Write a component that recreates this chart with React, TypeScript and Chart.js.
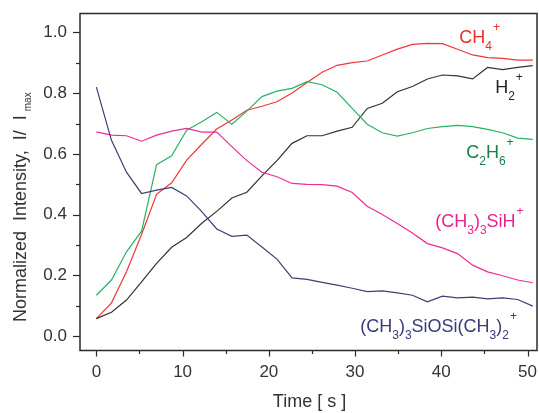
import React, { useEffect, useRef } from "react";
import { Chart, registerables } from "chart.js";
Chart.register(...registerables);

// ---- data ----
const time = [0, 1.75, 3.49, 5.24, 6.98, 8.73, 10.47, 12.22, 13.96, 15.71, 17.45, 19.2, 20.94, 22.69, 24.43, 26.18, 27.92, 29.67, 31.41, 33.16, 34.9, 36.65, 38.39, 40.14, 41.88, 43.63, 45.37, 47.12, 48.86, 50.61];
const ch4 = [0.058, 0.11, 0.212, 0.335, 0.467, 0.505, 0.58, 0.632, 0.682, 0.712, 0.744, 0.757, 0.772, 0.801, 0.835, 0.869, 0.892, 0.901, 0.906, 0.926, 0.945, 0.961, 0.964, 0.963, 0.945, 0.926, 0.917, 0.915, 0.909, 0.909];
const h2 = [0.058, 0.079, 0.119, 0.179, 0.24, 0.293, 0.325, 0.372, 0.411, 0.455, 0.474, 0.528, 0.578, 0.635, 0.66, 0.66, 0.675, 0.688, 0.75, 0.767, 0.805, 0.822, 0.847, 0.86, 0.857, 0.847, 0.885, 0.878, 0.885, 0.891];
const c2h6 = [0.135, 0.185, 0.278, 0.346, 0.565, 0.594, 0.678, 0.706, 0.737, 0.698, 0.741, 0.789, 0.807, 0.816, 0.838, 0.828, 0.803, 0.75, 0.698, 0.67, 0.659, 0.67, 0.684, 0.69, 0.694, 0.69, 0.681, 0.67, 0.652, 0.648];
const siH = [0.673, 0.662, 0.66, 0.642, 0.662, 0.675, 0.684, 0.672, 0.672, 0.624, 0.578, 0.54, 0.525, 0.503, 0.5, 0.499, 0.494, 0.473, 0.428, 0.401, 0.371, 0.34, 0.305, 0.291, 0.272, 0.234, 0.212, 0.199, 0.185, 0.176];
const siOSi = [0.82, 0.645, 0.54, 0.47, 0.481, 0.49, 0.462, 0.41, 0.353, 0.329, 0.333, 0.294, 0.254, 0.192, 0.187, 0.177, 0.168, 0.158, 0.147, 0.149, 0.143, 0.135, 0.113, 0.132, 0.126, 0.129, 0.123, 0.126, 0.121, 0.099];

const xMajorTicks = [0, 10, 20, 30, 40, 50];
const xMinorTicks = [5, 15, 25, 35, 45];
const yMajorTicks = [0, 0.2, 0.4, 0.6, 0.8, 1.0];
const yMinorTicks = [0.1, 0.3, 0.5, 0.7, 0.9];

const FONT = "'Liberation Sans', Arial, Helvetica, sans-serif";

type Seg = { t: string; k?: "sub" | "sup" };
const seriesLabels: { color: string; x: number; y: number; segs: Seg[] }[] = [
  { color: "#ee2b2b", x: 42.08, y: 0.964, segs: [{ t: "CH" }, { t: "4", k: "sub" }, { t: "+", k: "sup" }] },
  { color: "#222222", x: 46.25, y: 0.8, segs: [{ t: "H" }, { t: "2", k: "sub" }, { t: "+", k: "sup" }] },
  { color: "#17804a", x: 42.89, y: 0.586, segs: [{ t: "C" }, { t: "2", k: "sub" }, { t: "H" }, { t: "6", k: "sub" }, { t: "+", k: "sup" }] },
  { color: "#e8228e", x: 39.3, y: 0.359, segs: [{ t: "(CH" }, { t: "3", k: "sub" }, { t: ")" }, { t: "3", k: "sub" }, { t: "SiH" }, { t: "+", k: "sup" }] },
  { color: "#3a3a78", x: 30.6, y: 0.013, segs: [{ t: "(CH" }, { t: "3", k: "sub" }, { t: ")" }, { t: "3", k: "sub" }, { t: "SiOSi(CH" }, { t: "3", k: "sub" }, { t: ")" }, { t: "2", k: "sub" }, { t: "+", k: "sup" }] },
];

const mk = (arr: number[]) => time.map((t, i) => ({ x: t, y: arr[i] }));

const customPlugin = {
  id: "customDraw",
  afterDraw(chart: any) {
    const { ctx, chartArea: a, scales } = chart;
    const xs = scales.x;
    const ys = scales.y;
    ctx.save();
    ctx.strokeStyle = "#2a2a2a";
    ctx.lineWidth = 1.5;
    ctx.strokeRect(a.left, a.top, a.right - a.left, a.bottom - a.top);
    ctx.lineWidth = 1.2;
    const line = (x1: number, y1: number, x2: number, y2: number) => {
      ctx.beginPath();
      ctx.moveTo(x1, y1);
      ctx.lineTo(x2, y2);
      ctx.stroke();
    };
    xMajorTicks.forEach((v) => {
      const px = Math.round(xs.getPixelForValue(v)) + 0.5;
      line(px, a.bottom, px, a.bottom + 6);
    });
    xMinorTicks.forEach((v) => {
      const px = Math.round(xs.getPixelForValue(v)) + 0.5;
      line(px, a.bottom, px, a.bottom + 3.5);
    });
    yMajorTicks.forEach((v) => {
      const py = Math.round(ys.getPixelForValue(v)) + 0.5;
      line(a.left - 7, py, a.left, py);
    });
    yMinorTicks.forEach((v) => {
      const py = Math.round(ys.getPixelForValue(v)) + 0.5;
      line(a.left - 4, py, a.left, py);
    });

    ctx.fillStyle = "#333333";
    ctx.font = `17px ${FONT}`;
    ctx.textAlign = "center";
    ctx.textBaseline = "middle";
    xMajorTicks.forEach((v) => {
      ctx.fillText(String(v), xs.getPixelForValue(v), a.bottom + 22);
    });
    ctx.textAlign = "right";
    yMajorTicks.forEach((v) => {
      ctx.fillText(v.toFixed(1), a.left - 13, ys.getPixelForValue(v));
    });

    // x title
    ctx.textAlign = "center";
    ctx.textBaseline = "alphabetic";
    ctx.font = `18px ${FONT}`;
    ctx.fillText("Time [ s ]", (a.left + a.right) / 2 + 1, 407);

    // y title
    ctx.save();
    ctx.translate(26, 322);
    ctx.rotate(-Math.PI / 2);
    ctx.textAlign = "left";
    ctx.font = `18px ${FONT}`;
    const main = "Normalized  Intensity,  I/  I";
    ctx.fillText(main, 0, 0);
    const w = ctx.measureText(main).width;
    ctx.font = `10px ${FONT}`;
    ctx.fillText("max", w + 4, 5);
    ctx.restore();

    // series labels
    ctx.textAlign = "left";
    ctx.textBaseline = "alphabetic";
    seriesLabels.forEach((lab) => {
      let x = xs.getPixelForValue(lab.x);
      const y = ys.getPixelForValue(lab.y);
      ctx.fillStyle = lab.color;
      lab.segs.forEach((s) => {
        if (s.k === "sub") {
          ctx.font = `12px ${FONT}`;
          ctx.fillText(s.t, x, y + 6.5);
        } else if (s.k === "sup") {
          ctx.font = `12px ${FONT}`;
          ctx.fillText(s.t, x + 1, y - 12);
        } else {
          ctx.font = `18px ${FONT}`;
          ctx.fillText(s.t, x, y);
        }
        x += ctx.measureText(s.t).width;
      });
    });
    ctx.restore();
  },
};

export default function App() {
  const ref = useRef<HTMLCanvasElement | null>(null);
  useEffect(() => {
    if (!ref.current) return;
    const ds = (label: string, data: number[], color: string) => ({
      label,
      data: mk(data),
      borderColor: color,
      backgroundColor: color,
      borderWidth: 1.2,
      pointRadius: 0,
      tension: 0,
      fill: false,
    });
    const chart = new Chart(ref.current, {
      type: "line",
      data: {
        datasets: [
          ds("(CH3)3SiOSi(CH3)2+", siOSi, "#3f3f72"),
          ds("(CH3)3SiH+", siH, "#ee2c96"),
          ds("C2H6+", c2h6, "#2ab264"),
          ds("H2+", h2, "#333333"),
          ds("CH4+", ch4, "#f03636"),
        ],
      },
      options: {
        responsive: false,
        animation: false,
        layout: { padding: { top: 13.5, right: 2, left: 0, bottom: 0 } },
        plugins: { legend: { display: false }, tooltip: { enabled: false } },
        scales: {
          x: {
            type: "linear",
            min: -1.9,
            max: 51.1,
            grid: { display: false },
            border: { display: false },
            ticks: { display: false },
            afterFit: (s: any) => {
              s.height = 62.5;
            },
          },
          y: {
            type: "linear",
            min: -0.047,
            max: 1.0625,
            grid: { display: false },
            border: { display: false },
            ticks: { display: false },
            afterFit: (s: any) => {
              s.width = 80;
            },
          },
        },
      },
      plugins: [customPlugin],
    } as any);
    return () => chart.destroy();
  }, []);
  return (
    <div style={{ position: "fixed", left: 0, top: 0, width: 539, height: 413, background: "#fff" }}>
      <canvas ref={ref} width={539} height={413} style={{ display: "block" }} />
    </div>
  );
}
